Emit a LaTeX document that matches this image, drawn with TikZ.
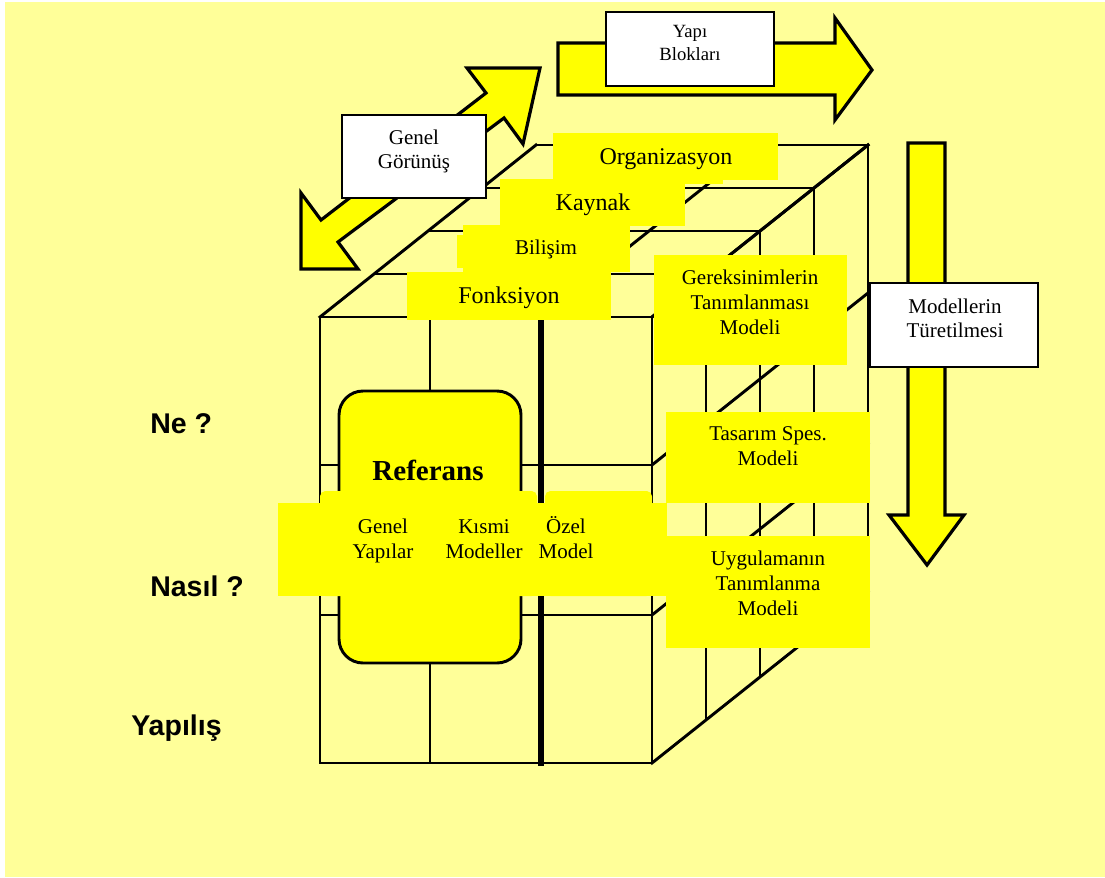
\documentclass[tikz,border=0pt]{standalone}
\usepackage{fontspec}
\setmainfont{Liberation Serif}
\setsansfont{Liberation Sans}
\definecolor{paleyellow}{HTML}{FFFF99}
\definecolor{tagyellow}{HTML}{FFFF00}

\begin{document}
\begin{tikzpicture}[x=0.75pt,y=-0.75pt,
  cubeline/.style={draw=black,line width=2.2pt,line cap=rect},
  heavyline/.style={draw=black,line width=4.2pt,line cap=rect},
  tagfill/.style={fill=tagyellow},
  bigarrow/.style={fill=tagyellow,draw=black,line width=2.4pt,line join=miter},
  whitebox/.style={fill=white,draw=black,line width=1.3pt},
  txt/.style={inner sep=0pt,anchor=base,font=\fontsize{15.75pt}{18pt}\selectfont},
  bigtxt/.style={txt,font=\fontsize{18pt}{21pt}\selectfont},
  smalltxt/.style={txt,font=\fontsize{14pt}{17pt}\selectfont},
  reftxt/.style={txt,font=\fontsize{21.75pt}{25pt}\selectfont\bfseries},
  sidetxt/.style={inner sep=0pt,anchor=base west,font=\fontsize{21.4pt}{25pt}\selectfont\sffamily\bfseries}]

% page and background
\useasboundingbox (0,0) rectangle (1105,877);
\fill[white] (0,0) rectangle (1105,877);
\fill[paleyellow] (5,2) rectangle (1105,877);

% cube: top face and right face, sliced in four layers
\foreach \k in {0,...,4} {
  \draw[cubeline] ({320+54*\k},{317-43*\k}) -- ({652+54*\k},{317-43*\k});
  \draw[cubeline] ({652+54*\k},{317-43*\k}) -- ({652+54*\k},{763-43*\k});
}
\foreach \x in {320,430,541,652}
  \draw[cubeline] (\x,317) -- ({\x+216},145);
\foreach \y in {317,465,615,763}
  \draw[cubeline] (652,\y) -- (868,{\y-172});
% cube: front face
\foreach \x in {320,430,652}
  \draw[cubeline] (\x,317) -- (\x,763);
\draw[heavyline] (541,317) -- (541,763);
\foreach \y in {317,465,615,763}
  \draw[cubeline] (320,\y) -- (652,\y);

% reference block
\draw[fill=tagyellow,line width=2.2pt,rounded corners=18pt] (339,391) rectangle (521,663);

% band of model kinds
\fill[tagfill] (278,503) rectangle (667,596);
\fill[tagfill,rounded corners=4pt] (320,491) rectangle (537,596);
\fill[tagfill,rounded corners=4pt] (545,491) rectangle (652,596);

% view labels on the top face
\fill[tagfill] (553,133) rectangle (778,180);
\fill[tagfill] (685,179) rectangle (723,184);
\fill[tagfill] (500,179) rectangle (685,226);
\fill[tagfill] (457,235) rectangle (464,268);
\fill[tagfill] (463,225) rectangle (630,272);
\fill[tagfill] (407,272) rectangle (611,320);

% model levels on the right face
\fill[tagfill] (654,255) rectangle (847,365);
\fill[tagfill] (666,412) rectangle (870,503);
\fill[tagfill] (666,536) rectangle (870,648);

% block arrows
\draw[bigarrow] (540,68) -- (523,144) -- (504,118) -- (338,242) -- (358,269)
  -- (301,269) -- (301,193) -- (321,220) -- (486,93) -- (467,68) -- cycle;
\draw[bigarrow] (558,43) -- (835,43) -- (835,18) -- (872,70) -- (835,120)
  -- (835,95) -- (558,95) -- cycle;
\draw[bigarrow] (908,143) -- (945,143) -- (945,515) -- (964,515) -- (927,565)
  -- (889,515) -- (908,515) -- cycle;

% captions of the arrows
\draw[whitebox] (342,115) rectangle (486,198);
\draw[whitebox] (606,12) rectangle (774,86);
\draw[whitebox] (870,283) rectangle (1038,367);

% texts
\node[txt] (genel1) at (414,145) {Genel};
\node[txt] (genel2) at (414,169) {Görünüş};
\node[smalltxt] (yapi1) at (690,38) {Yapı};
\node[smalltxt] (yapi2) at (690,61) {Blokları};
\node[txt] (turet1) at (955,313) {Modellerin};
\node[txt] (turet2) at (955,337) {Türetilmesi};

\node[bigtxt] (org) at (666,165) {Organizasyon};
\node[bigtxt] (kaynak) at (593,211) {Kaynak};
\node[txt] (bilisim) at (546,254) {Bilişim};
\node[bigtxt] (fonk) at (509,303) {Fonksiyon};

\node[txt] (ger1) at (750,284) {Gereksinimlerin};
\node[txt] (ger2) at (750,309) {Tanımlanması};
\node[txt] (ger3) at (750,334) {Modeli};
\node[txt] (tas1) at (768,440) {Tasarım Spes.};
\node[txt] (tas2) at (768,465) {Modeli};
\node[txt] (uyg1) at (768,565) {Uygulamanın};
\node[txt] (uyg2) at (768,590) {Tanımlanma};
\node[txt] (uyg3) at (768,615) {Modeli};

\node[reftxt] (ref) at (428,480) {Referans};
\node[txt] (gy1) at (383,533) {Genel};
\node[txt] (gy2) at (383,558) {Yapılar};
\node[txt] (km1) at (484,533) {Kısmi};
\node[txt] (km2) at (484,558) {Modeller};
\node[txt] (oz1) at (566,533) {Özel};
\node[txt] (oz2) at (566,558) {Model};

\node[sidetxt] (ne) at (150,433) {Ne ?};
\node[sidetxt] (nasil) at (150,596) {Nasıl ?};
\node[sidetxt] (yapilis) at (131,735) {Yapılış};
\end{tikzpicture}
\end{document}
